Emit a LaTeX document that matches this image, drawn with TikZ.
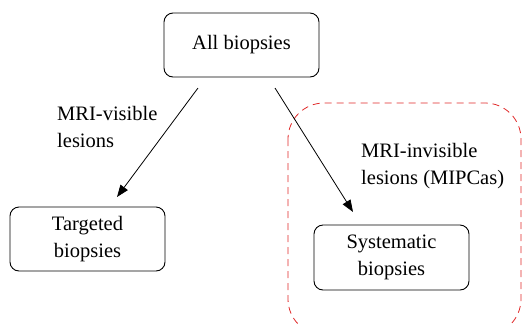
\documentclass[tikz,border=0pt]{standalone}
\usepackage{fontspec}
\setmainfont{Liberation Serif}
\usetikzlibrary{arrows.meta}
\definecolor{dashred}{RGB}{224,40,40}
\begin{document}
\begin{tikzpicture}[x=1pt,y=-1pt,
  box/.style={draw,rounded corners=9pt,line width=0.9pt,align=center,inner sep=0pt},
  lbl/.style={align=left,inner sep=0pt,anchor=west},
  conn/.style={line width=0.8pt,-{Triangle[length=12pt,width=9pt]}},
  every node/.style={font=\fontsize{20.5}{27}\selectfont}]
\useasboundingbox (0,0) rectangle (522,325);
\begin{scope}
\clip (0,0) rectangle (522,325);
\draw[dashred,dash pattern=on 7pt off 5pt,line width=0.8pt,rounded corners=36pt] (288,103) rectangle (521,335);
\end{scope}
\node[box,minimum width=155pt,minimum height=64pt] (all) at (241.5,45) {All biopsies};
\node[box,minimum width=155pt,minimum height=64pt] (tar) at (87.5,239) {Targeted\\biopsies};
\node[box,minimum width=155pt,minimum height=65pt] (sys) at (391.5,257.5) {Systematic\\biopsies};
\coordinate (a1s) at (198,88);
\coordinate (a1e) at (117,197);
\coordinate (a2s) at (275,88);
\coordinate (a2e) at (353,212);
\draw[conn] (a1s) -- (a1e);
\draw[conn] (a2s) -- (a2e);
\node[lbl] (vis) at (57,126.5) {MRI-visible\\lesions};
\node[lbl] (inv) at (361,166) {MRI-invisible\\lesions (MIPCas)};
\end{tikzpicture}
\end{document}
